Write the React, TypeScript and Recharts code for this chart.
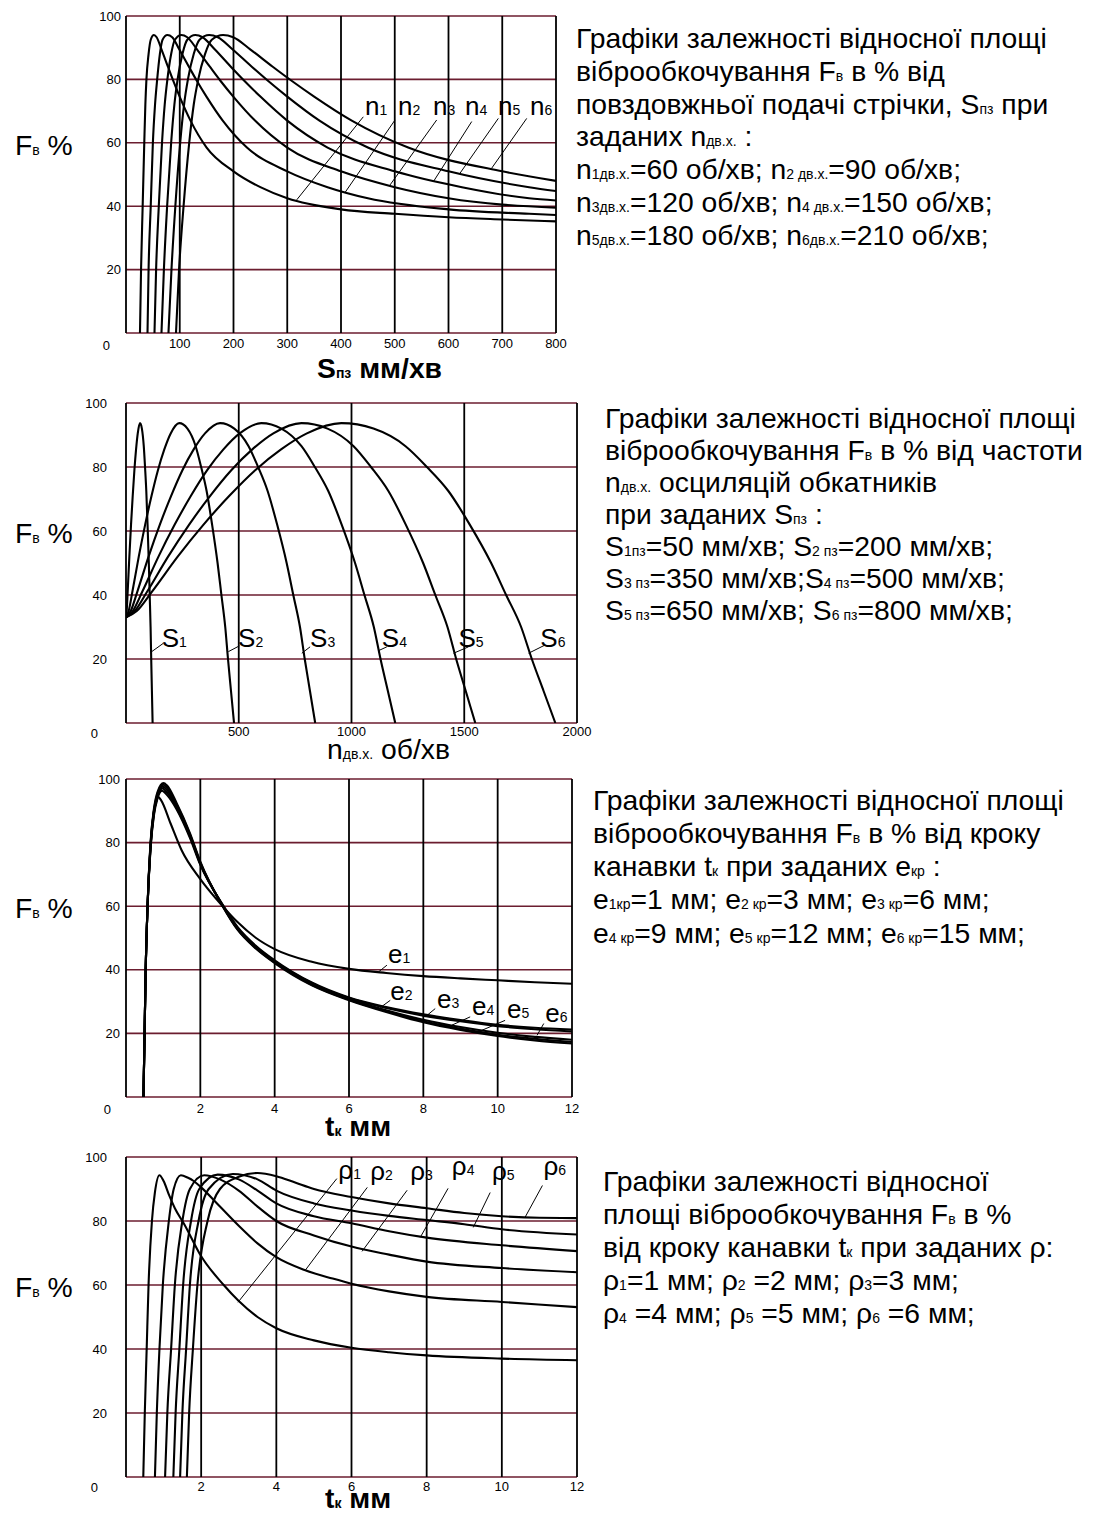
import React from 'react';
import { LineChart, Line, XAxis, YAxis, CartesianGrid, ReferenceLine, ReferenceDot } from 'recharts';

type Pt = { x: number; y: number };
const zip = (xs: number[], ys: number[]): Pt[] => xs.map((x, i) => ({ x, y: ys[i] }));

const FONT = "'Liberation Sans', Arial, Helvetica, sans-serif";
const H_GRID = '#6b1d2f';
const Y_TICKS = [0, 20, 40, 60, 80, 100];
const TEXT_SIZE = 28.3;

// ---------- Panel 1: F (%) vs S (mm/min), curves n1..n6 ----------
const P1_X_TICKS = [0, 100, 200, 300, 400, 500, 600, 700, 800];
const n1X = [26, 28, 31, 34, 36, 38, 42, 46, 52, 57, 66, 78, 88, 100, 120, 150, 200, 250, 300, 400, 500, 600, 700, 800];
const n1Y = [0, 20, 40, 60, 72, 80, 88, 92.5, 94, 93.3, 89.5, 84, 79.5, 74.5, 67, 58.5, 51, 46, 42.5, 39, 37.6, 36.5, 35.8, 35.2];
const n2X = [40, 42, 46, 50, 54, 58, 63, 68, 77, 86, 99, 117, 132, 150, 180, 225, 300, 375, 450, 600, 750, 800];
const n2Y = [0, 20, 40, 60, 72, 80, 88, 92.5, 94, 93.3, 89.5, 84, 79.5, 74.5, 67, 58.5, 51, 46, 42.5, 39, 37.6, 37.2];
const n3X = [53, 56, 61, 67, 72, 77, 84, 91, 103, 114, 132, 156, 176, 200, 240, 300, 400, 500, 600, 800];
const n3Y = [0, 20, 40, 60, 72, 80, 88, 92.5, 94, 93.3, 89.5, 84, 79.5, 74.5, 67, 58.5, 51, 46, 42.5, 39.5];
const n4X = [66, 70.5, 76.5, 84, 90, 96, 105, 114, 129, 142.5, 165, 195, 220.5, 250.5, 300, 375, 500, 625, 750, 800];
const n4Y = [0, 20, 40, 60, 72, 80, 88, 92.5, 94, 93.3, 89.5, 84, 79.5, 74.5, 67, 58.5, 51, 46, 42.5, 41.8];
const n5X = [79, 84.6, 91.8, 100.8, 108, 115.2, 126, 136.8, 154.8, 171, 198, 234, 264.6, 300.6, 360, 450, 600, 750, 800];
const n5Y = [0, 20, 40, 60, 72, 80, 88, 92.5, 94, 93.3, 89.5, 84, 79.5, 74.5, 67, 58.5, 51, 46, 44.8];
const n6X = [93, 98.7, 107.1, 117.6, 126, 134.4, 147, 159.6, 180.6, 199.5, 231, 273, 308.7, 350.7, 420, 525, 700, 800];
const n6Y = [0, 20, 40, 60, 72, 80, 88, 92.5, 94, 93.3, 89.5, 84, 79.5, 74.5, 67, 58.5, 51, 48];

// text anchor (tx,ty), leader start (x0,y0), leader end on curve (x1,y1), data units
const P1_LABELS = [
  { t: 'n', s: '1', tx: 444.7, ty: 68.8, x0: 441.5, y0: 68.2, x1: 317.6, y1: 42 },
  { t: 'n', s: '2', tx: 506, ty: 68.8, x0: 500.5, y0: 67.2, x1: 407.4, y1: 44.3 },
  { t: 'n', s: '3', tx: 571.2, ty: 68.8, x0: 578, y0: 67.2, x1: 491.2, y1: 46.7 },
  { t: 'n', s: '4', tx: 630.7, ty: 68.8, x0: 643.2, y0: 66.7, x1: 571.7, y1: 47.7 },
  { t: 'n', s: '5', tx: 692.1, ty: 68.8, x0: 692.7, y0: 67.7, x1: 621.4, y1: 50.4 },
  { t: 'n', s: '6', tx: 751.6, ty: 68.8, x0: 745.5, y0: 67.7, x1: 680.4, y1: 52 },
];

// ---------- Panel 2: F (%) vs n (rpm), curves S1..S6 ----------
const P2_X_TICKS = [0, 500, 1000, 1500, 2000];
const RISE_Y = [33, 35, 41, 52, 62, 71, 79, 85.5, 90.5, 93.7];
const FALL_Y = [92, 86.5, 80, 72.5, 62, 50, 40, 30, 20, 10, 0];
const S_Y = [...RISE_Y, ...FALL_Y];
const s1X = [0, 3.1, 7.4, 14.9, 22.3, 29.8, 37.2, 44.6, 52.1, 62, 70.4, 78.8, 84.4, 90, 95.6, 101.2, 105.1, 109, 111.8, 114.9, 118];
const s2X = [0, 11.8, 28.3, 56.6, 85, 113.3, 141.6, 169.9, 198.2, 236, 272.5, 308.9, 333.2, 357.5, 381.8, 406.1, 423.1, 440.1, 452.3, 465.6, 479];
const s3X = [0, 20.9, 50, 100.1, 150.1, 200.2, 250.2, 300.2, 350.3, 417, 480.3, 543.6, 585.8, 628, 670.2, 712.4, 741.9, 771.5, 792.6, 815.8, 839];
const s4X = [0, 30, 72, 144, 216, 288, 360, 432, 504, 600, 689.1, 778.2, 837.6, 897, 956.4, 1015.8, 1057.4, 1099, 1128.7, 1161.3, 1194];
const s5X = [0, 38.9, 93.4, 186.7, 280.1, 373.4, 466.8, 560.2, 653.5, 778, 893.7, 1009.3, 1086.4, 1163.5, 1240.6, 1317.7, 1371.7, 1425.6, 1464.2, 1506.6, 1549];
const s6X = [0, 47.8, 114.6, 229.2, 343.8, 458.4, 573, 687.6, 802.2, 955, 1097.4, 1239.7, 1334.6, 1429.5, 1524.4, 1619.3, 1685.7, 1752.2, 1799.6, 1851.8, 1904];

const P2_LABELS = [
  { t: 'S', s: '1', tx: 158.4, ty: 23.8, x0: 165.5, y0: 24.9, x1: 114, y1: 22.3 },
  { t: 'S', s: '2', tx: 497, ty: 23.8, x0: 502.7, y0: 24.1, x1: 454, y1: 22.3 },
  { t: 'S', s: '3', tx: 816.5, ty: 23.8, x0: 816.5, y0: 23.8, x1: 779.7, y1: 21.8 },
  { t: 'S', s: '4', tx: 1134.7, ty: 23.8, x0: 1156.8, y0: 23.8, x1: 1119.6, y1: 22.6 },
  { t: 'S', s: '5', tx: 1474.6, ty: 23.8, x0: 1518.9, y0: 23.8, x1: 1452.4, y1: 21.8 },
  { t: 'S', s: '6', tx: 1837.2, ty: 23.8, x0: 1859.3, y0: 24.4, x1: 1785.2, y1: 21.8 },
];

// ---------- Panel 3: F (%) vs t (mm), curves e1..e6 ----------
const P34_X_TICKS = [0, 2, 4, 6, 8, 10, 12];
const e1X = [0.47, 0.5, 0.53, 0.58, 0.65, 0.72, 0.8, 0.87, 0.95, 1.2, 1.5, 2.0, 2.6, 3.0, 3.5, 4, 5, 6, 7, 8, 9, 10, 11, 12];
const e1Y = [0, 20, 40, 60, 77, 87, 92.5, 94.3, 93.2, 86, 77.5, 68.5, 60, 55, 50, 46.5, 42.5, 40.3, 39, 38, 37.3, 36.7, 36.1, 35.6];
const e2X = [0.47, 0.5, 0.53, 0.58, 0.66, 0.75, 0.85, 0.97, 1.1, 1.36, 1.72, 2.0, 2.6, 3.0, 3.5, 4, 5, 6, 7, 8, 9, 10, 11, 12];
const e2Y = [0, 20, 40, 60, 78, 88.5, 94, 96.3, 95, 90.5, 81.5, 73, 60.5, 53.5, 47.5, 43, 36, 31.3, 28.3, 26, 24.2, 22.7, 21.8, 21.2];
const e3X = [0.47, 0.5, 0.53, 0.58, 0.66, 0.75, 0.85, 0.98, 1.1, 1.36, 1.72, 2.0, 2.6, 3.0, 3.5, 4, 5, 6, 7, 8, 9, 10, 11, 12];
const e3Y = [0, 20, 40, 60, 78.5, 89, 94.6, 97, 95.8, 91, 82, 73.3, 60.3, 53.2, 47.2, 42.7, 35.8, 31.1, 28, 25.6, 23.8, 22.3, 21.3, 20.6];
const e4X = [0.47, 0.5, 0.53, 0.58, 0.66, 0.75, 0.85, 0.99, 1.1, 1.36, 1.72, 2.0, 2.6, 3.0, 3.5, 4, 5, 6, 7, 8, 9, 10, 11, 12];
const e4Y = [0, 20, 40, 60, 79, 89.5, 95, 97.6, 96.6, 91.5, 82.3, 73.5, 60.2, 53, 47, 42.5, 35.5, 30.8, 27.3, 24.3, 22, 20.2, 18.9, 18];
const e5X = [0.47, 0.5, 0.53, 0.58, 0.66, 0.75, 0.85, 1.0, 1.1, 1.36, 1.72, 2.0, 2.6, 3.0, 3.5, 4, 5, 6, 7, 8, 9, 10, 11, 12];
const e5Y = [0, 20, 40, 60, 79.5, 90, 95.5, 98.2, 97.3, 92, 82.6, 73.7, 60.1, 52.8, 46.8, 42.3, 35.3, 30.6, 27, 23.8, 21.5, 19.6, 18.3, 17.3];
const e6X = [0.47, 0.5, 0.53, 0.58, 0.66, 0.75, 0.85, 1.01, 1.1, 1.36, 1.72, 2.0, 2.6, 3.0, 3.5, 4, 5, 6, 7, 8, 9, 10, 11, 12];
const e6Y = [0, 20, 40, 60, 80, 90.5, 96, 98.7, 98, 92.5, 83, 74, 60, 52.6, 46.6, 42.1, 35.1, 30.4, 26.7, 23.5, 21.1, 19.2, 17.8, 16.8];

const P3_LABELS = [
  { t: 'e', s: '1', tx: 7.05, ty: 42.1, x0: 7.02, y0: 41.45, x1: 6.79, y1: 39.3 },
  { t: 'e', s: '2', tx: 7.11, ty: 30.4, x0: 7.11, y0: 30.4, x1: 6.84, y1: 28.1 },
  { t: 'e', s: '3', tx: 8.37, ty: 27.9, x0: 8.32, y0: 27.8, x1: 8.05, y1: 25.2 },
  { t: 'e', s: '4', tx: 9.31, ty: 25.7, x0: 9.26, y0: 25.2, x1: 8.77, y1: 22.6 },
  { t: 'e', s: '5', tx: 10.25, ty: 24.7, x0: 10.2, y0: 24.1, x1: 9.58, y1: 21 },
  { t: 'e', s: '6', tx: 11.28, ty: 23.6, x0: 11.24, y0: 23.1, x1: 11.06, y1: 19.4 },
];

// ---------- Panel 4: F (%) vs t (mm), curves rho1..rho6 ----------
const r1X = [0.46, 0.5, 0.55, 0.6, 0.69, 0.77, 0.89, 1.0, 1.15, 1.3, 1.55, 2.0, 2.6, 3.0, 3.5, 4, 5, 6, 7, 8, 10, 12];
const r1Y = [0, 20, 40, 60, 80, 89, 94.3, 92.5, 88, 84, 79, 69, 60, 55, 50, 46.5, 42.7, 40.4, 39, 38, 37, 36.5];
const r2X = [0.77, 0.82, 0.89, 0.98, 1.14, 1.27, 1.46, 1.65, 1.8, 2.0, 2.5, 3.0, 3.5, 4.0, 4.77, 5.5, 6, 7, 8, 10, 12];
const r2Y = [0, 20, 40, 60, 80, 90, 94.3, 93.5, 92.5, 90.5, 84.5, 78.5, 73, 68.7, 64.6, 62, 60.4, 58, 56.3, 54.7, 53.1];
const r3X = [1.04, 1.1, 1.2, 1.3, 1.5, 1.7, 2.08, 2.5, 3.0, 3.5, 4, 5, 6, 7, 8, 10, 12];
const r3Y = [0, 20, 40, 60, 80, 90, 94.3, 93, 89.5, 84.5, 80, 75.5, 72, 69.5, 67.3, 65.3, 64];
const r4X = [1.26, 1.32, 1.42, 1.52, 1.73, 1.95, 2.44, 3.0, 3.5, 4, 5, 6, 7, 8, 10, 12];
const r4Y = [0, 20, 40, 60, 80, 90, 94.5, 93, 89.5, 85.5, 81.5, 79.3, 76.8, 74.8, 72.4, 70.6];
const r5X = [1.44, 1.5, 1.6, 1.7, 1.93, 2.2, 2.84, 3.5, 4, 5, 6, 7, 8, 9, 10, 12];
const r5Y = [0, 20, 40, 60, 80, 90, 94.7, 93, 89.5, 85.5, 83.3, 81.6, 80.3, 79, 77.4, 75.8];
const r6X = [1.62, 1.68, 1.78, 1.9, 2.17, 2.5, 3.0, 3.5, 4, 4.5, 5, 6, 7, 8, 9, 10, 11, 12];
const r6Y = [0, 20, 40, 60, 80, 90, 93.8, 95, 94, 92, 90, 87.5, 85.5, 84, 82.5, 81.5, 81, 80.9];

const P4_LABELS = [
  { t: 'ρ', s: '1', tx: 5.65, ty: 93.2, x0: 5.61, y0: 93.25, x1: 2.98, y1: 54.6 },
  { t: 'ρ', s: '2', tx: 6.5, ty: 92.7, x0: 6.42, y0: 90.5, x1: 4.77, y1: 64.6 },
  { t: 'ρ', s: '3', tx: 7.56, ty: 92.7, x0: 7.48, y0: 89.6, x1: 6.28, y1: 70.5 },
  { t: 'ρ', s: '4', tx: 8.67, ty: 94.3, x0: 8.57, y0: 90.2, x1: 7.83, y1: 74.9 },
  { t: 'ρ', s: '5', tx: 9.74, ty: 92.7, x0: 9.69, y0: 88.9, x1: 9.24, y1: 78.0 },
  { t: 'ρ', s: '6', tx: 11.11, ty: 94.3, x0: 11.08, y0: 91.1, x1: 10.62, y1: 81.2 },
];

type Ann = { t: string; s: string; tx: number; ty: number; x0: number; y0: number; x1: number; y1: number };
type Cfg = {
  top: number; right: number; bottom: number;
  xMax: number; xTicks: number[]; series: Pt[][]; labels: Ann[];
  yGap: number; zdx: number; zdy: number; xGap: number;
};

const PANELS: Cfg[] = [
  {
    top: 16, right: 556, bottom: 333, xMax: 800, xTicks: P1_X_TICKS,
    series: [zip(n1X, n1Y), zip(n2X, n2Y), zip(n3X, n3Y), zip(n4X, n4Y), zip(n5X, n5Y), zip(n6X, n6Y)],
    labels: P1_LABELS, yGap: 5, zdx: 11, zdy: 12, xGap: 6,
  },
  {
    top: 403, right: 577, bottom: 723, xMax: 2000, xTicks: P2_X_TICKS,
    series: [zip(s1X, S_Y), zip(s2X, S_Y), zip(s3X, S_Y), zip(s4X, S_Y), zip(s5X, S_Y), zip(s6X, S_Y)],
    labels: P2_LABELS, yGap: 19, zdx: 9, zdy: 10, xGap: 4,
  },
  {
    top: 779, right: 572, bottom: 1097, xMax: 12, xTicks: P34_X_TICKS,
    series: [zip(e1X, e1Y), zip(e2X, e2Y), zip(e3X, e3Y), zip(e4X, e4Y), zip(e5X, e5Y), zip(e6X, e6Y)],
    labels: P3_LABELS, yGap: 6, zdx: 9, zdy: 12, xGap: 7,
  },
  {
    top: 1157, right: 577, bottom: 1477, xMax: 12, xTicks: P34_X_TICKS,
    series: [zip(r1X, r1Y), zip(r2X, r2Y), zip(r3X, r3Y), zip(r4X, r4Y), zip(r5X, r5Y), zip(r6X, r6Y)],
    labels: P4_LABELS, yGap: 19, zdx: 9, zdy: 10, xGap: 5,
  },
];

const RIGHT_PAD = 30;

function Panel({ c }: { c: Cfg }) {
  const W = c.right + RIGHT_PAD;
  const H = c.bottom - c.top + 10 + 40;
  const yTick = (p: any) => {
    const z = p.payload.value === 0;
    return (
      <text x={z ? p.x - c.zdx : p.x} y={z ? p.y + c.zdy : p.y} dy="0.35em" textAnchor="end"
        fontSize={13} fontFamily={FONT} fill="#000">{p.payload.value}</text>
    );
  };
  const xTick = (p: any) => {
    if (p.payload.value === 0) return <g />;
    return (
      <text x={p.x} y={p.y} dy="0.71em" textAnchor="middle" fontSize={13} fontFamily={FONT} fill="#000">
        {p.payload.value}
      </text>
    );
  };
  return (
    <div style={{ position: 'absolute', left: 0, top: c.top - 10 }}>
      <LineChart width={W} height={H} margin={{ top: 10, right: RIGHT_PAD, bottom: 0, left: 0 }}>
        <CartesianGrid vertical={false} stroke={H_GRID} strokeWidth={1.6} />
        <CartesianGrid horizontal={false} stroke="#000" strokeWidth={1.8} />
        <XAxis type="number" dataKey="x" domain={[0, c.xMax]} ticks={c.xTicks} interval={0} allowDataOverflow
          axisLine={false} tickLine={false} tickSize={0} tickMargin={c.xGap} height={40} tick={xTick} />
        <YAxis type="number" domain={[0, 100]} ticks={Y_TICKS} interval={0} allowDataOverflow
          axisLine={false} tickLine={false} tickSize={0} tickMargin={c.yGap} width={126} tick={yTick} />
        {c.series.map((s, i) => (
          <Line key={i} data={s} dataKey="y" type="monotone" stroke="#000" strokeWidth={2.1}
            dot={false} activeDot={false} isAnimationActive={false} />
        ))}
        {c.labels.map((a, i) => (
          <ReferenceLine key={'l' + i} segment={[{ x: a.x0, y: a.y0 }, { x: a.x1, y: a.y1 }]}
            stroke="#000" strokeWidth={1} ifOverflow="visible" />
        ))}
        {c.labels.map((a, i) => (
          <ReferenceDot key={'d' + i} x={a.tx} y={a.ty} r={0} ifOverflow="visible"
            shape={(p: any) => (
              <text x={p.cx} y={p.cy} fontFamily={FONT} fontSize={26} fill="#000">
                {a.t}<tspan fontSize={14}>{a.s}</tspan>
              </text>
            )} />
        ))}
      </LineChart>
    </div>
  );
}

const Sub = ({ children }: { children: React.ReactNode }) => (
  <span style={{ fontSize: 14, lineHeight: 1 }}>{children}</span>
);

// baseline offset inside a line box of height lh for Liberation Sans
const baseOff = (lh: number) => (lh - TEXT_SIZE * 1.117) / 2 + TEXT_SIZE * 0.905;

const textBlock = (left: number, baseline: number, lh: number, lines: React.ReactNode[]) => (
  <div style={{ position: 'absolute', left, top: baseline - baseOff(lh), fontFamily: FONT, fontSize: TEXT_SIZE, lineHeight: lh + 'px', color: '#000', whiteSpace: 'nowrap' }}>
    {lines.map((l, i) => <div key={i}>{l}</div>)}
  </div>
);

const label = (left: number, baseline: number, content: React.ReactNode, bold = false) => (
  <div style={{ position: 'absolute', left, top: baseline - baseOff(24), fontFamily: FONT, fontSize: TEXT_SIZE, lineHeight: '24px', fontWeight: bold ? 700 : 400, whiteSpace: 'nowrap', color: '#000' }}>
    {content}
  </div>
);

export default function App() {
  return (
    <div style={{ position: 'absolute', left: 0, top: 0, width: 1109, height: 1515, background: '#fff', overflow: 'hidden' }}>
      {PANELS.map((c, i) => <Panel key={i} c={c} />)}

      {label(15, 155, <>F<Sub>в</Sub> %</>)}
      {label(15, 543, <>F<Sub>в</Sub> %</>)}
      {label(15, 918, <>F<Sub>в</Sub> %</>)}
      {label(15, 1297, <>F<Sub>в</Sub> %</>)}

      {label(317, 378, <>S<Sub>пз</Sub> мм/хв</>, true)}
      {label(327, 759, <>n<Sub>дв.х.</Sub> об/хв</>)}
      {label(325, 1136, <>t<Sub>к</Sub> мм</>, true)}
      {label(325, 1508, <>t<Sub>к</Sub> мм</>, true)}

      {textBlock(576, 48.3, 32.8, [
        <>Графіки залежності відносної площі</>,
        <>віброобкочування F<Sub>в</Sub> в % від</>,
        <>повздовжньої подачі стрічки, S<Sub>пз</Sub> при</>,
        <>заданих n<Sub>дв.х.</Sub> :</>,
        <>n<Sub>1дв.х.</Sub>=60 об/хв; n<Sub>2 дв.х.</Sub>=90 об/хв;</>,
        <>n<Sub>3дв.х.</Sub>=120 об/хв; n<Sub>4 дв.х.</Sub>=150 об/хв;</>,
        <>n<Sub>5дв.х.</Sub>=180 об/хв; n<Sub>6дв.х.</Sub>=210 об/хв;</>,
      ])}
      {textBlock(605, 428.3, 32, [
        <>Графіки залежності відносної площі</>,
        <>віброобкочування F<Sub>в</Sub> в % від частоти</>,
        <>n<Sub>дв.х.</Sub> осциляцій обкатників</>,
        <>при заданих S<Sub>пз</Sub> :</>,
        <>S<Sub>1пз</Sub>=50 мм/хв; S<Sub>2 пз</Sub>=200 мм/хв;</>,
        <>S<Sub>3 пз</Sub>=350 мм/хв;S<Sub>4 пз</Sub>=500 мм/хв;</>,
        <>S<Sub>5 пз</Sub>=650 мм/хв; S<Sub>6 пз</Sub>=800 мм/хв;</>,
      ])}
      {textBlock(593, 810, 33.3, [
        <>Графіки залежності відносної площі</>,
        <>віброобкочування F<Sub>в</Sub> в % від кроку</>,
        <>канавки t<Sub>к</Sub> при заданих e<Sub>кр</Sub> :</>,
        <>e<Sub>1кр</Sub>=1 мм; e<Sub>2 кр</Sub>=3 мм; e<Sub>3 кр</Sub>=6 мм;</>,
        <>e<Sub>4 кр</Sub>=9 мм; e<Sub>5 кр</Sub>=12 мм; e<Sub>6 кр</Sub>=15 мм;</>,
      ])}
      {textBlock(603, 1191.7, 33, [
        <>Графіки залежності відносної</>,
        <>площі віброобкочування F<Sub>в</Sub> в %</>,
        <>від кроку канавки t<Sub>к</Sub> при заданих ρ:</>,
        <>ρ<Sub>1</Sub>=1 мм; ρ<Sub>2</Sub> =2 мм; ρ<Sub>3</Sub>=3 мм;</>,
        <>ρ<Sub>4</Sub> =4 мм; ρ<Sub>5</Sub> =5 мм; ρ<Sub>6</Sub> =6 мм;</>,
      ])}
    </div>
  );
}
